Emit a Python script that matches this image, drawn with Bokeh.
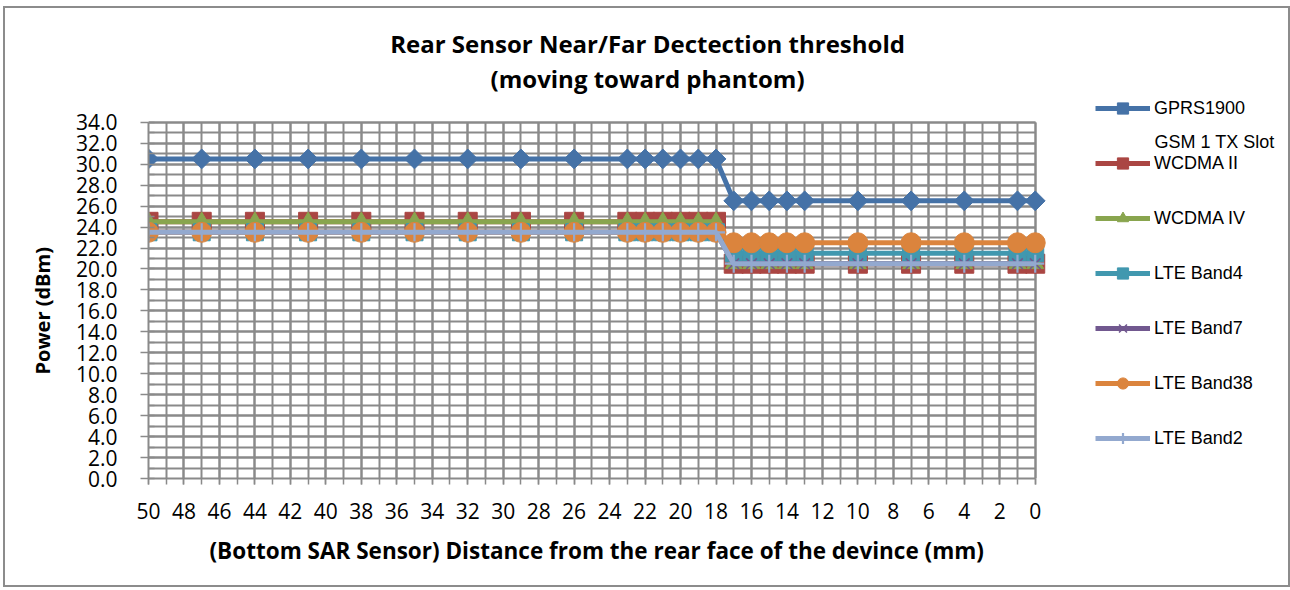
import math
from bokeh.plotting import figure
from bokeh.models import (Range1d, SingleIntervalTicker, PrintfTickFormatter,
                          Legend, LegendItem, Label, Title)
from bokeh.embed import file_html
from bokeh.resources import INLINE

# ---------------- data ----------------
distance_mm = [50, 47, 44, 41, 38, 35, 32, 29, 26, 23, 22, 21, 20, 19, 18,
               17, 16, 15, 14, 13, 10, 7, 4, 1, 0]
gprs1900 = [30.5, 30.5, 30.5, 30.5, 30.5, 30.5, 30.5, 30.5, 30.5, 30.5, 30.5, 30.5, 30.5, 30.5, 30.5,
            26.5, 26.5, 26.5, 26.5, 26.5, 26.5, 26.5, 26.5, 26.5, 26.5]
wcdma_ii = [24.5, 24.5, 24.5, 24.5, 24.5, 24.5, 24.5, 24.5, 24.5, 24.5, 24.5, 24.5, 24.5, 24.5, 24.5,
            20.5, 20.5, 20.5, 20.5, 20.5, 20.5, 20.5, 20.5, 20.5, 20.5]
wcdma_iv = [24.5, 24.5, 24.5, 24.5, 24.5, 24.5, 24.5, 24.5, 24.5, 24.5, 24.5, 24.5, 24.5, 24.5, 24.5,
            20.5, 20.5, 20.5, 20.5, 20.5, 20.5, 20.5, 20.5, 20.5, 20.5]
lte_band4 = [23.5, 23.5, 23.5, 23.5, 23.5, 23.5, 23.5, 23.5, 23.5, 23.5, 23.5, 23.5, 23.5, 23.5, 23.5,
             21.5, 21.5, 21.5, 21.5, 21.5, 21.5, 21.5, 21.5, 21.5, 21.5]
lte_band7 = [23.5, 23.5, 23.5, 23.5, 23.5, 23.5, 23.5, 23.5, 23.5, 23.5, 23.5, 23.5, 23.5, 23.5, 23.5,
             20.5, 20.5, 20.5, 20.5, 20.5, 20.5, 20.5, 20.5, 20.5, 20.5]
lte_band38 = [23.5, 23.5, 23.5, 23.5, 23.5, 23.5, 23.5, 23.5, 23.5, 23.5, 23.5, 23.5, 23.5, 23.5, 23.5,
              22.5, 22.5, 22.5, 22.5, 22.5, 22.5, 22.5, 22.5, 22.5, 22.5]
lte_band2 = [23.5, 23.5, 23.5, 23.5, 23.5, 23.5, 23.5, 23.5, 23.5, 23.5, 23.5, 23.5, 23.5, 23.5, 23.5,
             20.5, 20.5, 20.5, 20.5, 20.5, 20.5, 20.5, 20.5, 20.5, 20.5]

series_names = ["GPRS1900", "WCDMA II", "WCDMA IV", "LTE Band4", "LTE Band7",
                "LTE Band38", "LTE Band2"]
series_values = [gprs1900, wcdma_ii, wcdma_iv, lte_band4, lte_band7, lte_band38, lte_band2]

title_line1 = "Rear Sensor Near/Far Dectection threshold"
title_line2 = "(moving toward phantom)"
x_title = "(Bottom SAR Sensor) Distance from the rear face of the devince (mm)"
y_title = "Power (dBm)"
legend_extra = "GSM 1 TX Slot"

x_min, x_max = 0, 50
y_min, y_max = 0, 34

# ---------------- styles ----------------
colors = ["#4572A7", "#AA4643", "#89A54E", "#4198AF", "#71588F", "#DB843D", "#93A9CF"]
markers = [("square", 14, math.pi / 4, 0), ("square", 19, 0, 0), ("triangle", 17, 0, 0),
           ("square", 17, 0, 0), ("x", 15, 0, 1.6), ("circle", 20, 0, 0), ("cross", 18, 0, 2.2)]

FONT = "Open Sans"
GRID = "#8a8a8a"

# the frame extends past the plot area so that title/legend texts are not clipped
p = figure(frame_width=1135, frame_height=461,
           min_border_left=143, min_border_right=5,
           min_border_top=9, min_border_bottom=107,
           x_range=Range1d(50, -14), y_range=Range1d(0, 44),
           output_backend="svg", toolbar_location=None)
p.outline_line_color = None
p.background_fill_color = "white"
p.border_fill_color = "white"
p.styles = {"margin-left": "5px", "margin-top": "8px",
            "box-shadow": "0 0 0 2px #8c8c8c"}

# axes
p.xaxis.ticker = SingleIntervalTicker(interval=2, num_minor_ticks=2)
p.yaxis.ticker = SingleIntervalTicker(interval=2, num_minor_ticks=2)
p.yaxis.formatter = PrintfTickFormatter(format="%.1f")
p.xaxis.bounds = (x_min, x_max)
p.yaxis.bounds = (y_min, y_max)
for ax in (p.xaxis[0], p.yaxis[0]):
    ax.axis_line_color = GRID
    ax.axis_line_width = 2
    ax.major_tick_line_color = GRID
    ax.minor_tick_line_color = GRID
    ax.major_tick_line_width = 1.5
    ax.minor_tick_line_width = 1.5
    ax.major_label_text_font = FONT
    ax.major_label_text_font_size = "21px"
    ax.major_label_text_color = "black"
p.yaxis.major_tick_out = 8
p.yaxis.major_tick_in = 0
p.yaxis.minor_tick_out = 0
p.yaxis.minor_tick_in = 6
p.yaxis.major_label_standoff = 23
p.xaxis.major_tick_out = 6
p.xaxis.major_tick_in = 0
p.xaxis.minor_tick_out = 6
p.xaxis.minor_tick_in = 0
p.xaxis.major_label_standoff = 18

# axis titles as side-panel titles (positioned relative to the plot area)
p.add_layout(Title(text=x_title, align="left", offset=61, standoff=22,
                   text_font=FONT, text_font_size="22.5px", text_font_style="bold",
                   text_color="black"), "below")
p.add_layout(Title(text=y_title, align="left", offset=104, standoff=34,
                   text_font=FONT, text_font_size="20px", text_font_style="bold",
                   text_color="black"), "left")

# grid, limited to the plot area
p.xgrid.bounds = (x_min, x_max)
p.xgrid.cross_bounds = (y_min, y_max)
p.ygrid.bounds = (y_min, y_max)
p.ygrid.cross_bounds = (x_min, x_max)
for g in (p.xgrid[0], p.ygrid[0]):
    g.grid_line_color = GRID
    g.grid_line_width = 2
    g.minor_grid_line_color = GRID
    g.minor_grid_line_width = 2

# series
items = []
for name, vals, col, (mk, sz, ang, lw) in zip(series_names, series_values, colors, markers):
    lr = p.line(distance_mm, vals, line_color=col, line_width=5)
    if mk in ("x", "cross"):
        sr = p.scatter(distance_mm, vals, marker=mk, size=sz, line_color=col, line_width=lw)
    else:
        sr = p.scatter(distance_mm, vals, marker=mk, size=sz, angle=ang,
                       fill_color=col, line_color=col, line_width=1)
    items.append(LegendItem(label=name, renderers=[lr, sr]))

legend = Legend(items=items, location=(947, 26), glyph_width=55, glyph_height=28,
                label_height=20, spacing=27, padding=0, margin=0, label_standoff=4,
                label_text_font="Liberation Sans", label_text_font_size="18px",
                label_text_color="black", background_fill_alpha=0, border_line_color=None)
p.add_layout(legend, "center")

# chart title and extra legend text
p.add_layout(Label(x=21.86, y=41.52, text=title_line1, text_align="center",
                   text_baseline="middle", text_font=FONT, text_font_size="24px",
                   text_font_style="bold", text_color="black"))
p.add_layout(Label(x=21.86, y=38.18, text=title_line2, text_align="center",
                   text_baseline="middle", text_font=FONT, text_font_size="24px",
                   text_font_style="bold", text_color="black"))
p.add_layout(Label(x=-6.73, y=32.07, text=legend_extra, text_align="left",
                   text_baseline="middle", text_font="Liberation Sans", text_font_size="18px",
                   text_color="black"))

open("out.html", "w").write(file_html(p, INLINE))
